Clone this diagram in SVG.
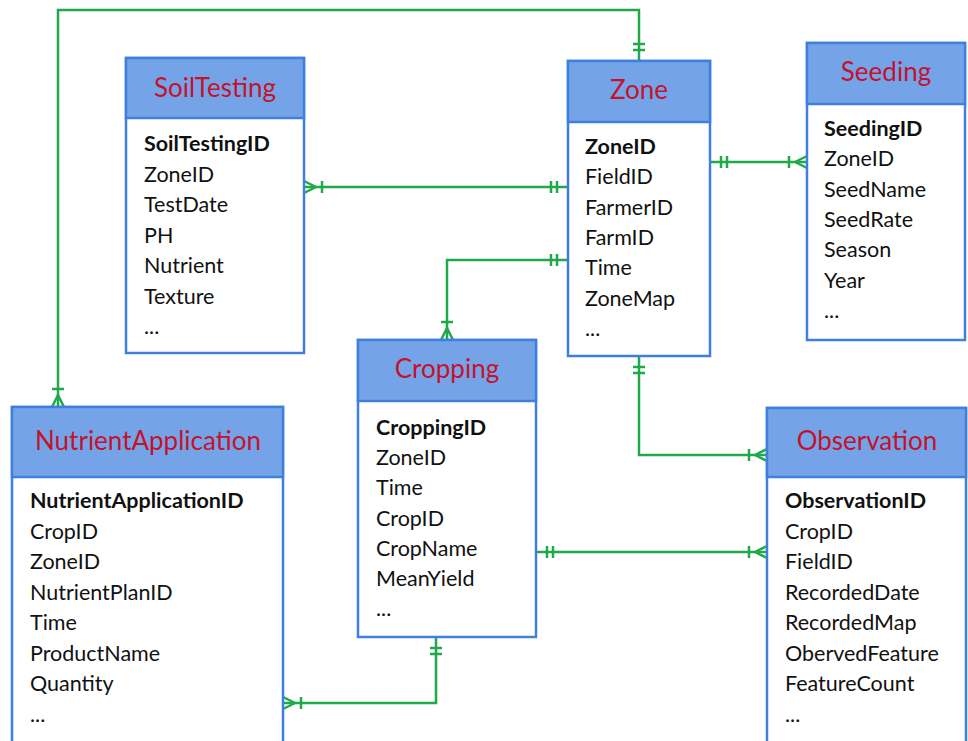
<svg xmlns="http://www.w3.org/2000/svg" width="968" height="741" viewBox="0 0 968 741">
  <style>
    .box { fill: #ffffff; stroke: #3f80de; stroke-width: 2.5; }
    .head { fill: #74a4e7; stroke: #3f80de; stroke-width: 2.5; }
    .title { font-family: Lato, "Open Sans", sans-serif; font-size: 26px; fill: #c4122c; text-anchor: middle; }
    .attr { font-family: Lato, "Open Sans", sans-serif; font-size: 21.5px; fill: #111111; }
    .key { font-weight: bold; }
    .rel { fill: none; stroke: #1fa94b; stroke-width: 2.5; marker-start: url(#one); marker-end: url(#many); }
  </style>
  <defs>
    <!-- exactly-one: two bars near the entity edge (origin = edge) -->
    <marker id="one" markerUnits="userSpaceOnUse" markerWidth="30" markerHeight="20" refX="0" refY="0" viewBox="-25 -10 30 20" orient="auto-start-reverse" overflow="visible">
      <path d="M-11,-6 V6 M-17,-6 V6" fill="none" stroke="#1fa94b" stroke-width="2.5"/>
    </marker>
    <!-- one-or-many: crow's foot plus a bar -->
    <marker id="many" markerUnits="userSpaceOnUse" markerWidth="30" markerHeight="20" refX="0" refY="0" viewBox="-25 -10 30 20" orient="auto" overflow="visible">
      <path d="M-12,0 L0,-6 M-12,0 L0,6 M-18,-6 V6" fill="none" stroke="#1fa94b" stroke-width="2.5"/>
    </marker>
  </defs>

  <g id="connectors">
    <path class="rel" d="M639,61 V10 H58 V407"/>
    <path class="rel" d="M568,187 H304"/>
    <path class="rel" d="M568,260 H447 V340"/>
    <path class="rel" d="M710,162 H807"/>
    <path class="rel" d="M639,356 V455 H767"/>
    <path class="rel" d="M536,552 H767"/>
    <path class="rel" d="M436,637 V703 H283"/>
  </g>

  <g id="SoilTesting">
    <rect class="box" x="126" y="58" width="178" height="295"/>
    <rect class="head" x="126" y="58" width="178" height="60"/>
    <text class="title" x="215" y="97">SoilTesting</text>
    <text class="attr" x="144" y="151"><tspan class="key">SoilTestingID</tspan><tspan x="144" dy="30.5">ZoneID</tspan><tspan x="144" dy="30.5">TestDate</tspan><tspan x="144" dy="30.5">PH</tspan><tspan x="144" dy="30.5">Nutrient</tspan><tspan x="144" dy="30.5">Texture</tspan><tspan x="144" dy="30.5">...</tspan></text>
  </g>

  <g id="Zone">
    <rect class="box" x="568" y="61" width="142" height="295"/>
    <rect class="head" x="568" y="61" width="142" height="61"/>
    <text class="title" x="639" y="99">Zone</text>
    <text class="attr" x="585" y="154"><tspan class="key">ZoneID</tspan><tspan x="585" dy="30.3">FieldID</tspan><tspan x="585" dy="30.3">FarmerID</tspan><tspan x="585" dy="30.3">FarmID</tspan><tspan x="585" dy="30.3">Time</tspan><tspan x="585" dy="30.3">ZoneMap</tspan><tspan x="585" dy="30.3">...</tspan></text>
  </g>

  <g id="Seeding">
    <rect class="box" x="807" y="43" width="158" height="297"/>
    <rect class="head" x="807" y="43" width="158" height="61"/>
    <text class="title" x="886" y="81">Seeding</text>
    <text class="attr" x="824" y="136"><tspan class="key">SeedingID</tspan><tspan x="824" dy="30.3">ZoneID</tspan><tspan x="824" dy="30.3">SeedName</tspan><tspan x="824" dy="30.3">SeedRate</tspan><tspan x="824" dy="30.3">Season</tspan><tspan x="824" dy="30.3">Year</tspan><tspan x="824" dy="30.3">...</tspan></text>
  </g>

  <g id="Cropping">
    <rect class="box" x="358" y="340" width="178" height="297"/>
    <rect class="head" x="358" y="340" width="178" height="61"/>
    <text class="title" x="447" y="378">Cropping</text>
    <text class="attr" x="376" y="435"><tspan class="key">CroppingID</tspan><tspan x="376" dy="30.2">ZoneID</tspan><tspan x="376" dy="30.2">Time</tspan><tspan x="376" dy="30.2">CropID</tspan><tspan x="376" dy="30.2">CropName</tspan><tspan x="376" dy="30.2">MeanYield</tspan><tspan x="376" dy="30.2">...</tspan></text>
  </g>

  <g id="NutrientApplication">
    <rect class="box" x="12" y="407" width="271" height="345"/>
    <rect class="head" x="12" y="407" width="271" height="70"/>
    <text class="title" x="148" y="450">NutrientApplication</text>
    <text class="attr" x="30" y="508"><tspan class="key">NutrientApplicationID</tspan><tspan x="30" dy="30.5">CropID</tspan><tspan x="30" dy="30.5">ZoneID</tspan><tspan x="30" dy="30.5">NutrientPlanID</tspan><tspan x="30" dy="30.5">Time</tspan><tspan x="30" dy="30.5">ProductName</tspan><tspan x="30" dy="30.5">Quantity</tspan><tspan x="30" dy="30.5">...</tspan></text>
  </g>

  <g id="Observation">
    <rect class="box" x="767" y="408" width="199" height="345"/>
    <rect class="head" x="767" y="408" width="199" height="69"/>
    <text class="title" x="867" y="450">Observation</text>
    <text class="attr" x="785" y="508"><tspan class="key">ObservationID</tspan><tspan x="785" dy="30.5">CropID</tspan><tspan x="785" dy="30.5">FieldID</tspan><tspan x="785" dy="30.5">RecordedDate</tspan><tspan x="785" dy="30.5">RecordedMap</tspan><tspan x="785" dy="30.5">ObervedFeature</tspan><tspan x="785" dy="30.5">FeatureCount</tspan><tspan x="785" dy="30.5">...</tspan></text>
  </g>
</svg>
